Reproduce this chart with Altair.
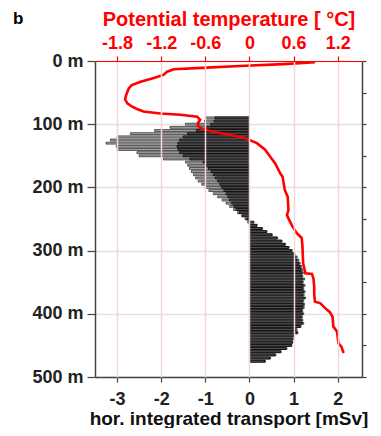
import altair as alt
import pandas as pd

# ---- data ----
bar_depth = [90, 95, 100, 105, 110, 115, 120, 125, 130, 135, 140, 145, 150, 155, 160, 165,
             170, 175, 180, 185, 190, 195, 200, 205, 210, 215, 220, 225, 230, 235, 240, 245,
             250, 255, 260, 265, 270, 275, 280, 285, 290, 295, 300, 305, 310, 315, 320, 325,
             330, 335, 340, 345, 350, 355, 360, 365, 370, 375, 380, 385, 390, 395, 400, 405,
             410, 415, 420, 425, 430, 435, 440, 445, 450, 455, 460, 465, 470, 475]

transport_grey = [-0.98, -1.02, -1.45, -1.80, -2.15, -2.70, -3.00, -3.15, -3.25, -3.02, -3.00,
                  -2.55, -2.50, -1.95, -1.45, -1.40, -1.36, -1.32, -1.27, -1.22, -1.16, -1.08,
                  -1.00, -0.92, -0.82, -0.72, -0.62, -0.53, -0.45, -0.36, -0.27, -0.18, -0.10,
                  -0.04,
                  0.17, 0.30, 0.40, 0.52, 0.64, 0.74, 0.82, 0.90, 0.97, 1.03, 1.08, 1.12, 1.15,
                  1.18, 1.20, 1.22, 1.21, 1.25, 1.22, 1.26, 1.23, 1.26, 1.24, 1.27, 1.23, 1.25,
                  1.24, 1.21, 1.23, 1.20, 1.21, 1.23, 1.17, 1.08, 1.10, 1.02, 0.99, 0.98, 0.96,
                  0.85, 0.72, 0.60, 0.48, 0.36]

transport_dark = [-0.78, -0.80, -0.88, -1.00, -1.20, -1.40, -1.50, -1.58, -1.62, -1.64, -1.62,
                  -1.58, -1.50, -1.35, -1.05, -0.98, -0.93, -0.87, -0.82, -0.77, -0.72, -0.67,
                  -0.63, -0.58, -0.53, -0.49, -0.45, -0.40, -0.35, -0.30, -0.23, -0.15, -0.06,
                  0.10, 0.17, 0.28, 0.38, 0.50, 0.62, 0.72, 0.80, 0.88, 0.95, 1.00, 1.05, 1.08,
                  1.12, 1.15, 1.17, 1.19, 1.18, 1.21, 1.19, 1.22, 1.20, 1.23, 1.21, 1.24, 1.20,
                  1.22, 1.21, 1.18, 1.20, 1.17, 1.18, 1.20, 1.15, 1.05, 1.08, 1.00, 0.98, 0.97,
                  0.95, 0.83, 0.70, 0.58, 0.46, 0.35]

temp_depth = [2, 5, 8, 10.5, 13, 17, 22, 27, 33, 38, 43, 49, 55, 61, 67, 72, 76, 80, 83, 85,
              88, 93, 98, 102, 106, 111, 117, 121, 124, 130, 140, 151, 162, 178, 183, 204, 215,
              236, 244, 249, 261, 272, 280, 293, 320, 336, 337, 344, 357, 368, 381, 383, 391,
              397, 405, 420, 428, 447, 452, 462]
temp_value = [0.89, 0.46, -0.13, -0.58, -1.03, -1.12, -1.17, -1.30, -1.48, -1.60, -1.64, -1.66,
              -1.68, -1.69, -1.66, -1.60, -1.53, -1.44, -1.21, -0.94, -0.71, -0.67, -0.70, -0.70,
              -0.67, -0.53, -0.26, -0.09, -0.02, 0.10, 0.21, 0.28, 0.35, 0.42, 0.45, 0.48, 0.52,
              0.53, 0.51, 0.53, 0.58, 0.64, 0.71, 0.72, 0.73, 0.76, 0.85, 0.87, 0.88, 0.88, 0.89,
              0.96, 1.03, 1.09, 1.13, 1.14, 1.19, 1.21, 1.25, 1.28]

depth_ticks = [0, 50, 100, 150, 200, 250, 300, 350, 400, 450, 500]
transport_ticks = [-3, -2, -1, 0, 1, 2]
temp_ticks = [-1.8, -1.2, -0.6, 0, 0.6, 1.2]

assert len(bar_depth) == len(transport_grey) == len(transport_dark)
assert len(temp_depth) == len(temp_value)

bars_df = pd.DataFrame({"depth": bar_depth, "grey": transport_grey, "dark": transport_dark})
temp_df = pd.DataFrame({"depth": temp_depth, "temp": temp_value})

FONT = "Liberation Sans"
HALF = 1.5

yscale = alt.Scale(domain=[0, 500], reverse=True, nice=False, zero=False)
xscale = alt.Scale(domain=[-3.5, 2.55], nice=False, zero=False)
tscale = alt.Scale(domain=[-2.1, 1.53], nice=False, zero=False)

left_axis = alt.Axis(
    orient="left", values=depth_ticks, title=None,
    labelExpr="datum.value % 100 == 0 ? datum.value + ' m' : ''",
    labelFont=FONT, labelFontSize=18, labelFontWeight="bold", labelColor="#222222",
    labelPadding=4, tickSize=8, tickColor="#444444", tickWidth=1.2,
    domainColor="#444444", domainWidth=1.5,
    grid=True, gridColor="#e2e2e2", gridWidth=1.6,
)
bottom_axis = alt.Axis(
    orient="bottom", values=transport_ticks, labelExpr="toString(datum.value)",
    title="hor. integrated transport [mSv]",
    titleFont=FONT, titleFontSize=19, titleFontWeight="bold", titleColor="#111111",
    titlePadding=1,
    labelFont=FONT, labelFontSize=18, labelFontWeight="bold", labelColor="#222222",
    labelPadding=8, tickSize=5, tickColor="#444444", tickWidth=1.2,
    domainColor="#444444", domainWidth=1.5, grid=False,
)

base = alt.Chart(bars_df).transform_calculate(
    y1=f"datum.depth - {HALF}", y2=f"datum.depth + {HALF}"
)

grey_bars = base.mark_rect(fill="#a9a9a9", stroke="#333333", strokeWidth=0.8).encode(
    x=alt.X("grey:Q", scale=xscale, axis=bottom_axis),
    x2=alt.datum(0),
    y=alt.Y("y1:Q", scale=yscale, axis=left_axis),
    y2="y2:Q",
)
dark_bars = base.mark_rect(fill="#555555", stroke="#000000", strokeWidth=0.8).encode(
    x=alt.X("dark:Q", scale=xscale),
    x2=alt.datum(0),
    y=alt.Y("y1:Q", scale=yscale),
    y2="y2:Q",
)
bars = alt.layer(grey_bars, dark_bars)

top_axis = alt.Axis(
    orient="top", values=temp_ticks, labelExpr="toString(datum.value)",
    title="Potential temperature [ °C]",
    titleFont=FONT, titleFontSize=20, titleFontWeight="bold", titleColor="#ff0000",
    titlePadding=5,
    labelFont=FONT, labelFontSize=18, labelFontWeight="bold", labelColor="#ff0000",
    labelPadding=4, tickSize=5, tickColor="#ff0000", tickWidth=1.2,
    domainColor="#ff0000", domainWidth=1,
    grid=True, gridColor="#f3d6d6", gridWidth=1.5, zindex=1,
)
right_axis = alt.Axis(
    orient="right", values=depth_ticks, labels=False, title=None,
    tickSize=4, tickColor="#444444", tickWidth=1.2,
    domainColor="#444444", domainWidth=1.5, grid=False,
)

line = alt.Chart(temp_df).mark_line(color="#ff0000", strokeWidth=2.6).encode(
    x=alt.X("temp:Q", scale=tscale, axis=top_axis),
    y=alt.Y("depth:Q", scale=yscale, axis=right_axis),
    order="depth:Q",
)

label_b = alt.Chart(pd.DataFrame({"t": ["b"]})).mark_text(
    font=FONT, fontSize=17, fontWeight="bold", color="#000000",
    align="left", baseline="alphabetic",
).encode(text="t:N", x=alt.value(-82), y=alt.value(-37))

chart = alt.layer(bars, line, label_b).resolve_scale(
    x="independent"
).resolve_axis(
    y="independent"
).properties(
    width=267, height=316,
    autosize=alt.AutoSizeParams(type="none"),
    padding={"left": 87, "top": 53, "right": 8, "bottom": 51},
).configure_view(stroke=None)

chart.save("out.html", embed_options={"renderer": "svg", "actions": False})
